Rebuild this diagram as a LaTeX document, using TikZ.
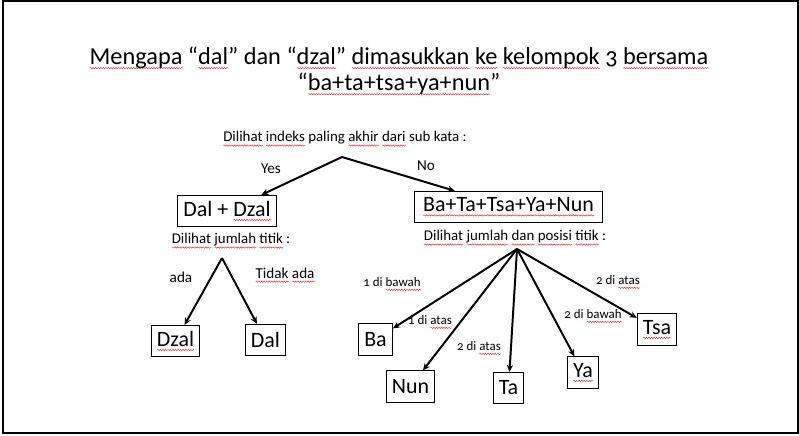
\documentclass[tikz,border=0pt]{standalone}
\usepackage{fontspec}
\setmainfont{Carlito}[Numbers=OldStyle]
\usetikzlibrary{arrows.meta, decorations.pathmorphing}
\definecolor{spellred}{HTML}{F03030}
\definecolor{inkblack}{HTML}{000000}
\newsavebox\typobox
\newcommand\typo[1]{\sbox\typobox{#1}\leavevmode\rlap{\raisebox{-2.6pt}{\tikz[baseline=0pt]
  \draw[spellred, line width=0.35pt, decorate, decoration={snake, amplitude=0.45pt, segment length=1.8pt}]
  (0pt,0pt) -- (\wd\typobox,0pt);}}\usebox\typobox}

\begin{document}
\begin{tikzpicture}[
  x=0.025cm, y=-0.025cm,
  ttl/.style={align=center, font=\fontsize{17.3}{18.6}\selectfont},
  ask/.style={font=\fontsize{10.6}{12}\selectfont, inner sep=0pt},
  box/.style={rectangle, draw=inkblack, line width=0.75pt, minimum height=0.78cm,
              inner xsep=4pt, font=\fontsize{15.6}{17}\selectfont},
  br/.style={draw=inkblack, line width=1.4pt, -{Stealth[length=5pt, width=4.5pt]}},
  lab/.style={font=\fontsize{10.8}{12}\selectfont, inner sep=0pt},
  elab/.style={font=\fontsize{9.2}{11}\selectfont, inner sep=0pt},
]
\useasboundingbox (0,0) rectangle (799,435);
\draw[line width=0.75pt] (3,1) rectangle (798,433);
\node[ttl] (title) at (399,71) {\typo{Mengapa} “\typo{dal}” dan “\typo{dzal}” \typo{dimasukkan} \typo{ke} \typo{kelompok} 3 \typo{bersama}\\
  “\typo{ba+ta+tsa+ya+nun}”};
% first question and its two groups
\node[ask] (q1) at (345,139) {\typo{Dilihat} \typo{indeks} paling \typo{akhir} \typo{dari} sub kata :};
\coordinate (b1) at (342,157);
\node[box] (dalzal) at (227,211) {Dal + \typo{Dzal}};
\node[box, minimum width=4.72cm] (batsa) at (508.5,207) {\typo{Ba+Ta+Tsa+Ya+Nun}};
\draw[br] (b1) -- (dalzal);
\draw[br] (b1) -- (batsa);
\node[lab] (yes) at (271,169) {Yes};
\node[lab] (no) at (426,166) {No};
% left: dal / dzal
\node[ask] (q2) at (231,241) {\typo{Dilihat} \typo{jumlah} \typo{titik} :};
\coordinate (b2) at (222,258);
\node[box] (dzal) at (175.5,341) {\typo{Dzal}};
\node[box] (dal) at (265.5,340) {Dal};
\draw[br] (b2) -- (dzal);
\draw[br] (b2) -- (dal);
\node[lab] (ada) at (181,277) {ada};
\node[lab] (tidak) at (285,275) {\typo{Tidak} \typo{ada}};
% right: ba, ta, tsa, ya, nun
\node[ask] (q3) at (515,238) {\typo{Dilihat} \typo{jumlah} \typo{dan} \typo{posisi} \typo{titik} :};
\coordinate (b3) at (517,249);
\node[box] (ba) at (375.5,339.5) {Ba};
\node[box] (nun) at (410.5,386.5) {Nun};
\node[box] (ta) at (508.5,388) {Ta};
\node[box] (ya) at (583,372.5) {\typo{Ya}};
\node[box] (tsa) at (657,329.5) {\typo{Tsa}};
\draw[br] (b3) -- (ba);
\draw[br] (b3) -- (nun);
\draw[br] (b3) -- (ta);
\draw[br] (b3) -- (ya);
\draw[br] (b3) -- (tsa);
\node[elab] (lba) at (392,284) {1 di \typo{bawah}};
\node[elab] (lnun) at (430,322) {1 di \typo{atas}};
\node[elab] (lta) at (479,348) {2 di \typo{atas}};
\node[elab] (lya) at (593,316) {2 di \typo{bawah}};
\node[elab] (ltsa) at (618,282) {2 di \typo{atas}};
\end{tikzpicture}
\end{document}
